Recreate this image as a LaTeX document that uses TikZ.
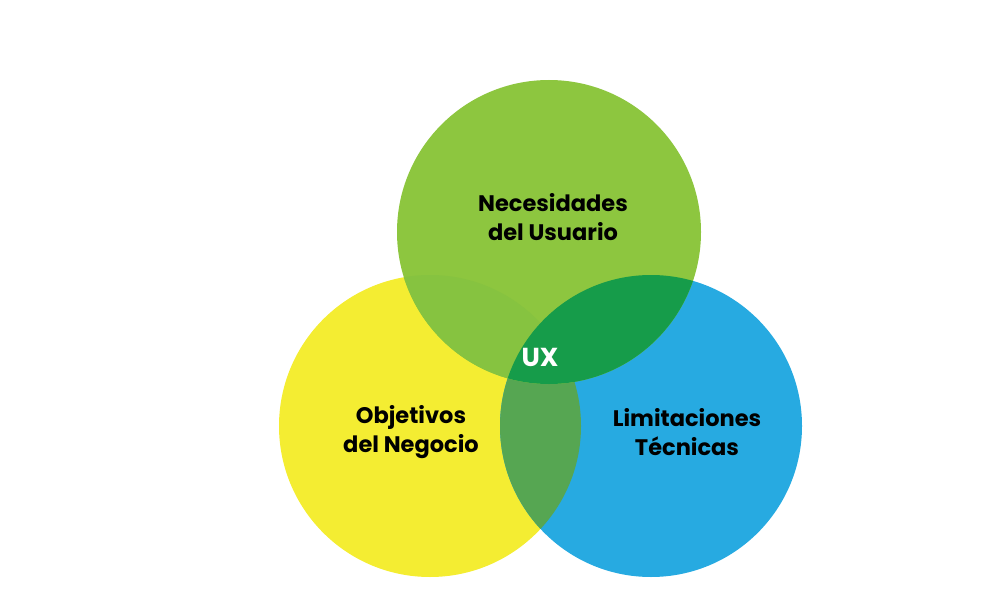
\documentclass[tikz,border=0pt]{standalone}
\usepackage{fontspec}
\setmainfont{Poppins}
\definecolor{uxyellow}{RGB}{244,237,50}
\definecolor{uxblue}{RGB}{39,170,225}
\definecolor{uxgreen}{RGB}{141,198,63}
\definecolor{uxgreenyellow}{RGB}{134,195,64}
\definecolor{uxgreenblue}{RGB}{22,156,74}
\definecolor{uxyellowblue}{RGB}{86,166,82}
\begin{document}
\begin{tikzpicture}[
    x=1pt, y=-1pt,
    mylabel/.style={font=\fontsize{22.5}{29}\selectfont\bfseries, align=center, text=black},
    myux/.style={font=\fontsize{26}{30}\selectfont\bfseries, text=white}
]
    \useasboundingbox (0, 0) rectangle (1001, 607);

    % Circle centres
    \coordinate (user) at (549, 232);
    \coordinate (business) at (430, 426);
    \coordinate (tech) at (651, 426);

    % Yellow and blue circles
    \fill[uxyellow] (business) circle (151);
    \fill[uxblue] (tech) circle (151);
    \begin{scope}
        \clip (business) circle (151);
        \fill[uxyellowblue] (tech) circle (151);
    \end{scope}

    % Green circle on top
    \fill[uxgreen] (user) circle (152);
    \begin{scope}
        \clip (user) circle (152);
        \fill[uxgreenyellow] (business) circle (151);
        \fill[uxgreenblue] (tech) circle (151);
    \end{scope}

    % Labels
    \node[mylabel] (needs) at (553, 217) {Necesidades\\del Usuario};
    \node[mylabel] (goals) at (411, 432) {Objetivos\\del Negocio};
    \node[mylabel] (limits) at (687, 432) {Limitaciones\\Técnicas};
    \node[myux] (ux) at (540, 357) {UX};
\end{tikzpicture}
\end{document}
